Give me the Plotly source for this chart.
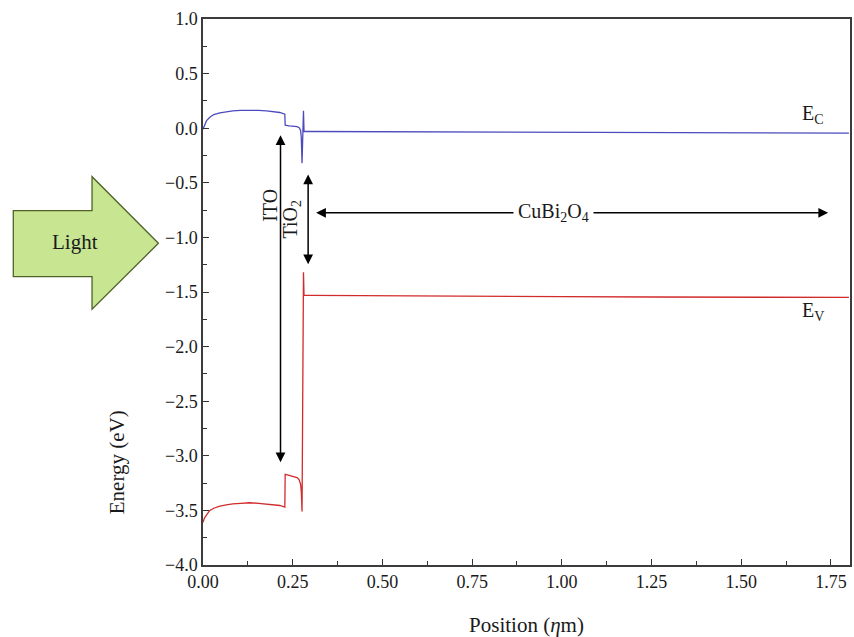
import plotly.graph_objects as go

# Band edges across the ITO / TiO2 / CuBi2O4 stack (position in um, energy in eV)
pos_c = [0.000, 0.004, 0.010, 0.019, 0.030, 0.047, 0.065, 0.083, 0.105, 0.130,
         0.155, 0.177, 0.195, 0.214, 0.228, 0.229, 0.240, 0.252, 0.262, 0.268,
         0.272, 0.274, 0.276, 0.280, 0.2815, 0.300, 0.500, 0.750, 1.000, 1.250,
         1.500, 1.800]
e_c = [-0.01, 0.03, 0.07, 0.10, 0.125, 0.140, 0.150, 0.158, 0.163, 0.165,
       0.163, 0.158, 0.152, 0.144, 0.128, 0.027, 0.022, 0.019, 0.015, 0.005,
       -0.020, -0.090, -0.320, 0.160, -0.030, -0.030, -0.032, -0.035, -0.037, -0.040,
       -0.042, -0.045]

pos_v = [0.000, 0.004, 0.010, 0.019, 0.030, 0.047, 0.065, 0.083, 0.105, 0.130,
         0.155, 0.177, 0.195, 0.214, 0.228, 0.229, 0.240, 0.252, 0.262, 0.268,
         0.272, 0.274, 0.276, 0.280, 0.2815, 0.300, 0.500, 0.750, 1.000, 1.250,
         1.500, 1.800]
e_v = [-3.61, -3.57, -3.54, -3.50, -3.48, -3.46, -3.45, -3.44, -3.435, -3.43,
       -3.435, -3.44, -3.445, -3.455, -3.47, -3.17, -3.18, -3.19, -3.20, -3.22,
       -3.26, -3.33, -3.51, -1.32, -1.53, -1.53, -1.535, -1.54, -1.543, -1.546,
       -1.548, -1.55]

x_ticks = [0.00, 0.25, 0.50, 0.75, 1.00, 1.25, 1.50, 1.75]
y_ticks = [1.0, 0.5, 0.0, -0.5, -1.0, -1.5, -2.0, -2.5, -3.0, -3.5, -4.0]

# Layer extents marked with double-headed arrows: (x, y_start, y_end)
ito_span = (0.216, -0.05, -3.06)
tio2_span = (0.293, -0.41, -1.245)
# CuBi2O4 horizontal span: (x_start, x_end, y)
cbo_span = (0.311, 1.742, -0.775)

FONT = "Liberation Serif"
BLUE = "#4b4bbd"
RED = "#d22b2b"
TXT = "#1a1a1a"

fig = go.Figure()
fig.add_trace(go.Scatter(x=pos_c, y=e_c, mode="lines", name="E_C",
                         line=dict(color=BLUE, width=1.3), showlegend=False))
fig.add_trace(go.Scatter(x=pos_v, y=e_v, mode="lines", name="E_V",
                         line=dict(color=RED, width=1.3), showlegend=False))

arrow_style = dict(showarrow=True, arrowcolor="black", arrowwidth=1.5,
                   arrowhead=2, startarrowhead=2, arrowsize=1.3, startarrowsize=1.3,
                   arrowside="end+start", axref="x", ayref="y", text="")

label_font = dict(family=FONT, size=20, color=TXT)

annotations = [
    dict(x=ito_span[0], y=ito_span[2], ax=ito_span[0], ay=ito_span[1], **arrow_style),
    dict(x=tio2_span[0], y=tio2_span[2], ax=tio2_span[0], ay=tio2_span[1], **arrow_style),
    dict(x=cbo_span[1], y=cbo_span[2], ax=cbo_span[0], ay=cbo_span[2], **arrow_style),
    dict(x=0.187, y=-0.71, text="ITO", textangle=-90, showarrow=False, font=label_font),
    dict(x=0.247, y=-0.83, text="TiO<sub>2</sub>", textangle=-90, showarrow=False,
         font=label_font),
    dict(x=0.978, y=cbo_span[2], text="CuBi<sub>2</sub>O<sub>4</sub>", showarrow=False,
         bgcolor="white", borderpad=4, font=label_font),
    dict(x=1.70, y=0.13, text="E<sub>C</sub>", showarrow=False, font=label_font),
    dict(x=1.70, y=-1.68, text="E<sub>V</sub>", showarrow=False, font=label_font),
]

# Block arrow labelled "Light" to the left of the plot (pixel layout -> paper coords)
L, R, T, B = 203, 2, 19, 72
W, H = 854, 637
pw, ph = W - L - R, H - T - B


def px(x):
    return (x - L) / pw


def py(y):
    return (H - B - y) / ph


arrow_pts = [(12.7, 210.7), (91.7, 210.7), (91.7, 176.7), (158.3, 243.3),
             (91.7, 309.3), (91.7, 276.7), (12.7, 276.7)]
path = "M " + " L ".join(f"{px(a):.4f},{py(b):.4f}" for a, b in arrow_pts) + " Z"

shapes = [dict(type="path", path=path, xref="paper", yref="paper",
               fillcolor="#c8e692", line=dict(color="#4f6228", width=1.3),
               layer="above")]
annotations.append(dict(x=px(75), y=py(242), xref="paper", yref="paper",
                        xanchor="center", yanchor="middle",
                        text="Light", showarrow=False,
                        font=dict(family=FONT, size=21, color=TXT)))
# y-axis title, set low on the left so it clears the Light arrow
annotations.append(dict(x=px(117), y=py(462), xref="paper", yref="paper",
                        xanchor="center", yanchor="middle", textangle=-90,
                        text="Energy (eV)", showarrow=False,
                        font=dict(family=FONT, size=21, color=TXT)))

axis_common = dict(showgrid=False, zeroline=False, ticks="inside", ticklen=6,
                   tickwidth=1.2, tickcolor="#333", showline=True, linecolor="#3c3c3c",
                   linewidth=1.5, mirror=True,
                   tickfont=dict(family=FONT, size=18, color=TXT),
                   minor=dict(ticks="inside", ticklen=4, tickwidth=1.2, tickcolor="#333"))

fig.update_layout(
    width=W, height=H,
    margin=dict(l=L, r=R, t=T, b=B),
    plot_bgcolor="white", paper_bgcolor="white",
    font=dict(family=FONT, size=18, color=TXT),
    xaxis=dict(range=[0, 1.803], tickvals=x_ticks, tickformat=".2f",
               title=dict(text="Position (<i>η</i>m)", standoff=27,
                          font=dict(family=FONT, size=21, color=TXT)),
               **{**axis_common, "minor": dict(axis_common["minor"], dtick=0.125, tick0=0)}),
    yaxis=dict(range=[-4.0, 1.0], tickvals=y_ticks, tickformat=".1f",
               **{**axis_common, "minor": dict(axis_common["minor"], dtick=0.25, tick0=0)}),
    annotations=annotations,
    shapes=shapes,
)

fig.write_html("out.html")
